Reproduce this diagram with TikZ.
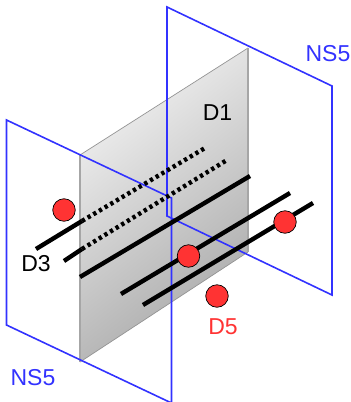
\documentclass[tikz,border=0pt]{standalone}
\usepackage{fontspec}
\setmainfont{Liberation Sans}
\definecolor{nsblue}{RGB}{50,50,255}
\definecolor{dred}{RGB}{255,51,51}
\tikzset{
  plane/.style={draw=nsblue,line width=1.6pt,line join=miter},
  brane/.style={draw=black,line width=4.4pt},
  dotbrane/.style={draw=black,line width=4.4pt,dash pattern=on 3.3pt off 3.3pt},
  dfive/.style={circle,draw=black,line width=0.7pt,fill=dred,minimum size=22.5pt,inner sep=0pt},
  lab/.style={font=\fontsize{23}{25}\selectfont,inner sep=0pt}
}
\begin{document}
\begin{tikzpicture}[x=1pt,y=-1pt]
\useasboundingbox (0,0) rectangle (351,402);
\clip (0,0) rectangle (351,402);
% D1 plane
\coordinate (gTL) at (80,155);
\coordinate (gTR) at (248,48);
\coordinate (gBR) at (248,252);
\coordinate (gBL) at (80,362);
\shade[top color=white!95!black,bottom color=white!66!black,shading angle=38] (gTL)--(gTR)--(gBR)--(gBL)--cycle;
\draw[draw=black!42,line width=0.7pt] (gTL)--(gTR);
\draw[draw=black!42,line width=0.7pt] (gBL)--(gBR);
\draw[draw=black!35,line width=1.6pt] (gTL)--(gBL);
\draw[draw=black!35,line width=1.6pt] (gTR)--(gBR);
% NS5 planes
\coordinate (aTL) at (167,7);
\coordinate (aTR) at (332,86);
\coordinate (aBR) at (332,295);
\coordinate (aBL) at (167,216);
\draw[plane] (aTL)--(aTR)--(aBR)--(aBL)--cycle;
\coordinate (bTL) at (6.5,120);
\coordinate (bTR) at (171.5,198);
\coordinate (bBR) at (171.5,403);
\coordinate (bBL) at (6.5,325);
\draw[plane] (bTL)--(bTR)--(bBR)--(bBL)--cycle;
% D3 branes
\coordinate (l1a) at (36,249); \coordinate (l1b) at (82,221); \coordinate (l1c) at (205,148);
\coordinate (l2a) at (64,261); \coordinate (l2b) at (82,249); \coordinate (l2c) at (227,160);
\coordinate (l3a) at (80,277); \coordinate (l3b) at (250,176);
\coordinate (l4a) at (121,294); \coordinate (l4b) at (290,193);
\coordinate (l5a) at (143,305); \coordinate (l5b) at (313,203);
\draw[brane] (l1a)--(l1b);
\draw[dotbrane] (l1b)--(l1c);
\draw[brane] (l2a)--(l2b);
\draw[dotbrane] (l2b)--(l2c);
\draw[brane] (l3a)--(l3b);
\draw[brane] (l4a)--(l4b);
\draw[brane] (l5a)--(l5b);
% D5 branes
\node[dfive] (d5a) at (64,210) {};
\node[dfive] (d5b) at (188.5,256) {};
\node[dfive] (d5c) at (285,222) {};
\node[dfive] (d5d) at (217,296) {};
% labels
\node[lab,text=black] (d1) at (217.5,113) {D1};
\node[lab,text=black] (d3) at (36,264) {D3};
\node[lab,text=dred] (d5) at (223,327) {D5};
\node[lab,text=nsblue] (nsr) at (328,54) {NS5};
\node[lab,text=nsblue] (nsl) at (33,378) {NS5};
\end{tikzpicture}
\end{document}
